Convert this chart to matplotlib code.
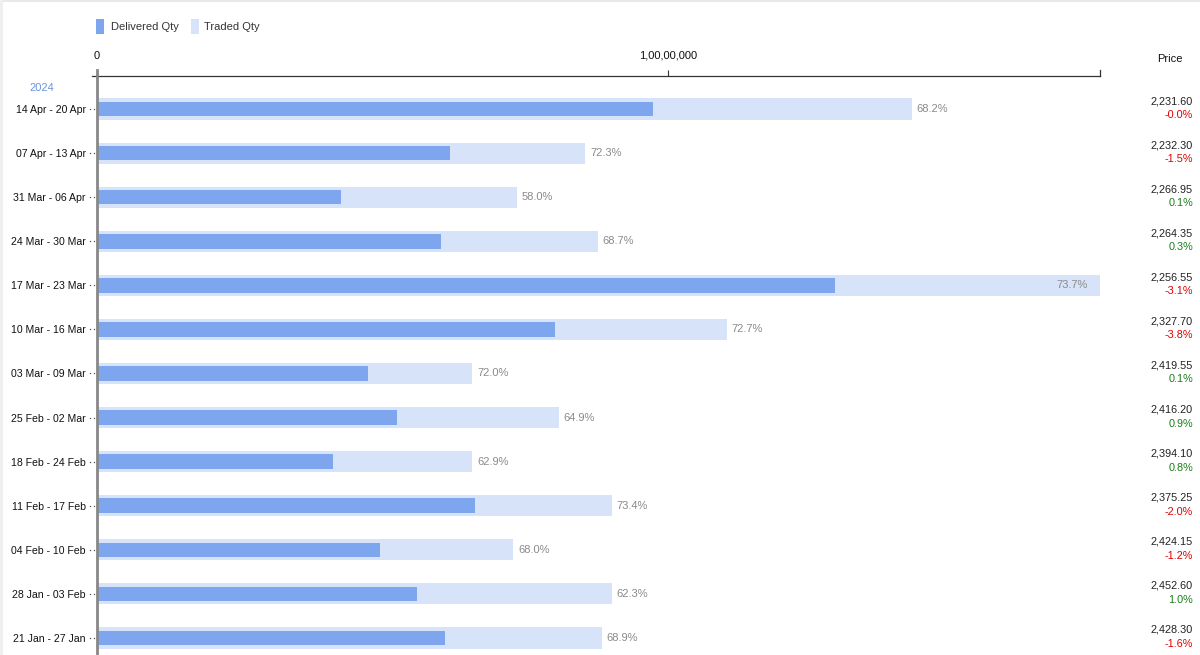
import matplotlib
matplotlib.use("Agg")
import matplotlib.pyplot as plt
from matplotlib.patches import Rectangle
from matplotlib.transforms import blended_transform_factory

plt.rcParams['font.family'] = ['Liberation Sans', 'DejaVu Sans']

weeks = ["14 Apr - 20 Apr", "07 Apr - 13 Apr", "31 Mar - 06 Apr", "24 Mar - 30 Mar",
         "17 Mar - 23 Mar", "10 Mar - 16 Mar", "03 Mar - 09 Mar", "25 Feb - 02 Mar",
         "18 Feb - 24 Feb", "11 Feb - 17 Feb", "04 Feb - 10 Feb", "28 Jan - 03 Feb",
         "21 Jan - 27 Jan"]
traded = [14.27e6, 8.55e6, 7.36e6, 8.77e6, 17.57e6, 11.03e6, 6.57e6, 8.09e6,
          6.57e6, 9.02e6, 7.29e6, 9.02e6, 8.84e6]
delivered = [9.74e6, 6.18e6, 4.27e6, 6.02e6, 12.92e6, 8.02e6, 4.75e6, 5.25e6,
             4.13e6, 6.62e6, 4.96e6, 5.60e6, 6.09e6]
pct_labels = ["68.2%", "72.3%", "58.0%", "68.7%", "73.7%", "72.7%", "72.0%", "64.9%",
              "62.9%", "73.4%", "68.0%", "62.3%", "68.9%"]
prices = ["2,231.60", "2,232.30", "2,266.95", "2,264.35", "2,256.55", "2,327.70",
          "2,419.55", "2,416.20", "2,394.10", "2,375.25", "2,424.15", "2,452.60", "2,428.30"]
changes = ["-0.0%", "-1.5%", "0.1%", "0.3%", "-3.1%", "-3.8%", "0.1%", "0.9%",
           "0.8%", "-2.0%", "-1.2%", "1.0%", "-1.6%"]
x_ticks = [0, 1e7]
x_tick_labels = ["0", "1,00,00,000"]

W, H = 1200, 655
fig = plt.figure(figsize=(W / 100, H / 100), dpi=100)
fig.patch.set_facecolor("white")

def fx(px):
    return px / W

def fy(py):
    return 1 - py / H

# frame decorations
fig.patches.append(Rectangle((0, fy(2)), 1, 2 / H, transform=fig.transFigure,
                             facecolor="#e8e8e8", edgecolor="none"))
fig.patches.append(Rectangle((0, 0), 3 / W, 1, transform=fig.transFigure,
                             facecolor="#efefef", edgecolor="none"))

ax_left, ax_right, ax_top, ax_bot = 97, 1100, 76, 671
ax = fig.add_axes([fx(ax_left), fy(ax_bot), (ax_right - ax_left) / W, (ax_bot - ax_top) / H])
ax.set_facecolor("none")

DELIV = "#7ea6ee"
TRADE = "#d7e3f8"
n = len(weeks)
ypos = list(range(n))
ax.barh(ypos, traded, height=0.48, color=TRADE, zorder=1)
ax.barh(ypos, delivered, height=0.33, color=DELIV, zorder=2)

xmax = max(traded)
ax.set_xlim(0, xmax)
ax.set_ylim(n - 0.25, -0.75)

for i in range(n):
    if traded[i] >= xmax * 0.98:
        ax.annotate(pct_labels[i], (traded[i], i), xytext=(-9, 0), textcoords="offset points",
                    ha="right", va="center", fontsize=8, color="#8a8a8a")
    else:
        ax.annotate(pct_labels[i], (traded[i], i), xytext=(3.5, 0), textcoords="offset points",
                    ha="left", va="center", fontsize=8, color="#8a8a8a")

# axes styling
ax.xaxis.tick_top()
ax.set_xticks(x_ticks)
ax.set_xticklabels(x_tick_labels, fontsize=8, color="#111111")
ax.tick_params(axis="x", length=4, width=0.8, color="#333333", pad=7)
ax.xaxis.get_major_ticks()[0].tick2line.set_visible(False)
ax.set_yticks(ypos)
ax.set_yticklabels(weeks, fontsize=7.6, color="#111111")
ax.tick_params(axis="y", length=0, pad=8)
for s in ["right", "bottom"]:
    ax.spines[s].set_visible(False)
ax.spines["top"].set_color("#333333")
ax.spines["top"].set_linewidth(0.9)
ax.spines["top"].set_bounds(-0.005 * xmax, xmax)
ax.spines["left"].set_color("#888888")
ax.spines["left"].set_linewidth(2)
ax.spines["left"].set_zorder(5)

# end tick on top axis
trans_x = blended_transform_factory(ax.transData, ax.transAxes)
ax.plot([xmax, xmax], [1.0, 1.0 + 6 / (ax_bot - ax_top)], color="#333333", lw=0.9,
        transform=trans_x, clip_on=False)
# extend left spine above top axis
ax.plot([0, 0], [1.0, 1.0 + 6 / (ax_bot - ax_top)], color="#888888", lw=2,
        transform=trans_x, clip_on=False)

# dotted y ticks (two small dots)
trans_y = blended_transform_factory(ax.transAxes, ax.transData)
aw = ax_right - ax_left
for i in ypos:
    ax.plot([-6.5 / aw, -3.2 / aw], [i, i], linestyle="none", marker="s", markersize=0.9,
            markerfacecolor="#555555", markeredgecolor="none", transform=trans_y, clip_on=False)

# year label
fig.text(fx(42), fy(88), "2024", fontsize=8, color="#6d94d8", ha="center", va="center")

# price column
fig.text(fx(1170), fy(59), "Price", fontsize=8, color="#111111", ha="center", va="center")
for i in ypos:
    yc = 109 + 44.08 * i
    fig.text(fx(1193), fy(yc - 8), prices[i], fontsize=7.8, color="#222222",
             ha="right", va="center")
    col = "#e00000" if changes[i].startswith("-") else "#1a7f1a"
    fig.text(fx(1193), fy(yc + 6), changes[i], fontsize=7.8, color=col,
             ha="right", va="center")

# legend
fig.patches.append(Rectangle((fx(96), fy(34)), 8 / W, 15 / H, transform=fig.transFigure,
                             facecolor=DELIV, edgecolor="none"))
fig.text(fx(111), fy(26.5), "Delivered Qty", fontsize=8, color="#333333", ha="left", va="center")
fig.patches.append(Rectangle((fx(191), fy(34)), 8 / W, 15 / H, transform=fig.transFigure,
                             facecolor=TRADE, edgecolor="none"))
fig.text(fx(204), fy(26.5), "Traded Qty", fontsize=8, color="#333333", ha="left", va="center")

fig.savefig("out.png", dpi=100, facecolor="white")
